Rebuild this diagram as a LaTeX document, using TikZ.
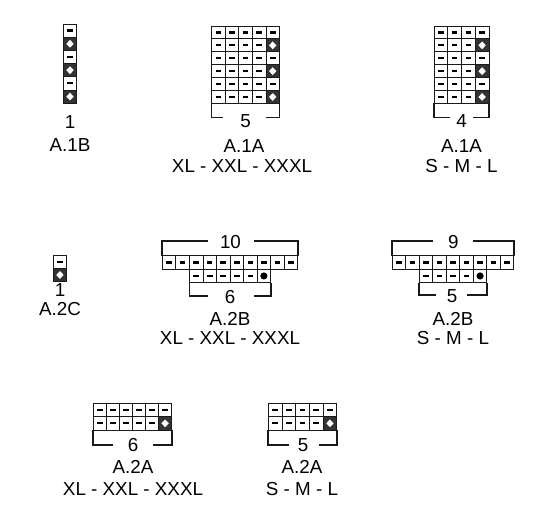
\documentclass[tikz,border=0pt]{standalone}
\usepackage{fontspec}
\setmainfont{Liberation Sans}
\tikzset{
  cell/.style={draw=black!90, line width=0.8pt, inner sep=0pt, outer sep=0pt, fill=white},
  symd/.style={path picture={\fill[black] ([xshift=-2.8pt,yshift=-1.1pt]path picture bounding box.center) rectangle ([xshift=2.8pt,yshift=1.1pt]path picture bounding box.center);}},
  syms/.style={fill=black!80, path picture={\fill[white] ([yshift=3.9pt]path picture bounding box.center) -- ([xshift=3.7pt]path picture bounding box.center) -- ([yshift=-3.9pt]path picture bounding box.center) -- ([xshift=-3.7pt]path picture bounding box.center) -- cycle;}},
  symc/.style={path picture={\fill[black] (path picture bounding box.center) circle (3.6pt);}},
  bracket/.style={line width=1.8pt, black!90},
  lbl/.style={font=\fontsize{18.8}{21}\selectfont, inner sep=0pt},
}
\newcommand\knitrow[6]{%
  \foreach \kk [count=\ii from 0] in {#6} {
    \node[cell, sym\kk, minimum width=#4pt, minimum height=#5pt, anchor=north west] (#1-\ii) at ({#2+\ii*#4},#3) {};
  }}
\begin{document}
\begin{tikzpicture}[x=1pt,y=-1pt]
\useasboundingbox (0,0) rectangle (550,529);

% ---------- A.1B ----------
\knitrow{a1b-0}{63.5}{24}{13}{13.2}{d}
\knitrow{a1b-1}{63.5}{37.2}{13}{13.2}{s}
\knitrow{a1b-2}{63.5}{50.4}{13}{13.2}{d}
\knitrow{a1b-3}{63.5}{63.6}{13}{13.2}{s}
\knitrow{a1b-4}{63.5}{76.8}{13}{13.2}{d}
\knitrow{a1b-5}{63.5}{90.0}{13}{13.2}{s}
\node[lbl] (a1b-n) at (70,122) {1};
\node[lbl] (a1b-l) at (70,145) {A.1B};

% ---------- A.1A XL ----------
\foreach \rr in {0,2,4} {
  \knitrow{a1ax-\rr}{211.5}{26+\rr*12.9}{13.6}{12.9}{d,d,d,d,d}
}
\foreach \rr in {1,3,5} {
  \knitrow{a1ax-\rr}{211.5}{26+\rr*12.9}{13.6}{12.9}{d,d,d,d,s}
}
\draw[bracket] (211.5,103.4) -- (211.5,117.5) -- (223,117.5);
\draw[bracket] (266,117.5) -- (279.5,117.5) -- (279.5,103.4);
\node[lbl] (a1ax-n) at (245.5,121) {5};
\node[lbl] (a1ax-l) at (244,146) {A.1A};
\node[lbl] (a1ax-s) at (242,166.5) {XL - XXL - XXXL};

% ---------- A.1A S ----------
\foreach \rr in {0,2,4} {
  \knitrow{a1as-\rr}{434}{26+\rr*12.9}{13.75}{12.9}{d,d,d,d}
}
\foreach \rr in {1,3,5} {
  \knitrow{a1as-\rr}{434}{26+\rr*12.9}{13.75}{12.9}{d,d,d,s}
}
\draw[bracket] (434,103.4) -- (434,117.5) -- (450,117.5);
\draw[bracket] (473,117.5) -- (489,117.5) -- (489,103.4);
\node[lbl] (a1as-n) at (461.5,121) {4};
\node[lbl] (a1as-l) at (461.5,146) {A.1A};
\node[lbl] (a1as-s) at (461.5,166.5) {S - M - L};

% ---------- A.2C ----------
\knitrow{a2c-0}{53.3}{255}{13.3}{13.3}{d}
\knitrow{a2c-1}{53.3}{268.3}{13.3}{13.3}{s}
\node[lbl] (a2c-n) at (60,290) {1};
\node[lbl] (a2c-l) at (60,309) {A.2C};

% ---------- A.2B XL ----------
\knitrow{a2bx-0}{162.3}{255.7}{13.54}{13.5}{d,d,d,d,d,d,d,d,d,d}
\knitrow{a2bx-1}{189.4}{269.2}{13.54}{13.5}{d,d,d,d,d,c}
\draw[bracket] (162.3,255.7) -- (162.3,240.7) -- (207.7,240.7);
\draw[bracket] (254,240.7) -- (297.7,240.7) -- (297.7,255.7);
\node[lbl] (a2bx-t) at (230.5,242) {10};
\draw[bracket] (189.4,282.7) -- (189.4,296) -- (208,296);
\draw[bracket] (254,296) -- (270.6,296) -- (270.6,282.7);
\node[lbl] (a2bx-n) at (230,297) {6};
\node[lbl] (a2bx-l) at (230,319) {A.2B};
\node[lbl] (a2bx-s) at (230,338) {XL - XXL - XXXL};

% ---------- A.2B S ----------
\knitrow{a2bs-0}{392.3}{255.7}{13.5}{13.5}{d,d,d,d,d,d,d,d,d}
\knitrow{a2bs-1}{419.3}{269.2}{13.5}{13.5}{d,d,d,d,c}
\draw[bracket] (392.3,255.7) -- (392.3,241) -- (433,241);
\draw[bracket] (473.3,241) -- (513.8,241) -- (513.8,255.7);
\node[lbl] (a2bs-t) at (453.3,241.7) {9};
\draw[bracket] (419.3,282.7) -- (419.3,295) -- (436,295);
\draw[bracket] (467,295) -- (486.8,295) -- (486.8,282.7);
\node[lbl] (a2bs-n) at (452,296) {5};
\node[lbl] (a2bs-l) at (453,319) {A.2B};
\node[lbl] (a2bs-s) at (453,338) {S - M - L};

% ---------- A.2A XL ----------
\knitrow{a2ax-0}{93.3}{403.3}{13.06}{13.35}{d,d,d,d,d,d}
\knitrow{a2ax-1}{93.3}{416.65}{13.06}{13.35}{d,d,d,d,d,s}
\draw[bracket] (93.3,430) -- (93.3,445) -- (113.3,445);
\draw[bracket] (152.7,445) -- (171.7,445) -- (171.7,430);
\node[lbl] (a2ax-n) at (133,445) {6};
\node[lbl] (a2ax-l) at (133,466.7) {A.2A};
\node[lbl] (a2ax-s) at (133,489) {XL - XXL - XXXL};

% ---------- A.2A S ----------
\knitrow{a2as-0}{268.3}{403.3}{13.7}{13.35}{d,d,d,d,d}
\knitrow{a2as-1}{268.3}{416.65}{13.7}{13.35}{d,d,d,d,s}
\draw[bracket] (268.3,430) -- (268.3,445) -- (289,445);
\draw[bracket] (319,445) -- (336.8,445) -- (336.8,430);
\node[lbl] (a2as-n) at (303,445) {5};
\node[lbl] (a2as-l) at (302,466.7) {A.2A};
\node[lbl] (a2as-s) at (302,489) {S - M - L};
\end{tikzpicture}
\end{document}
